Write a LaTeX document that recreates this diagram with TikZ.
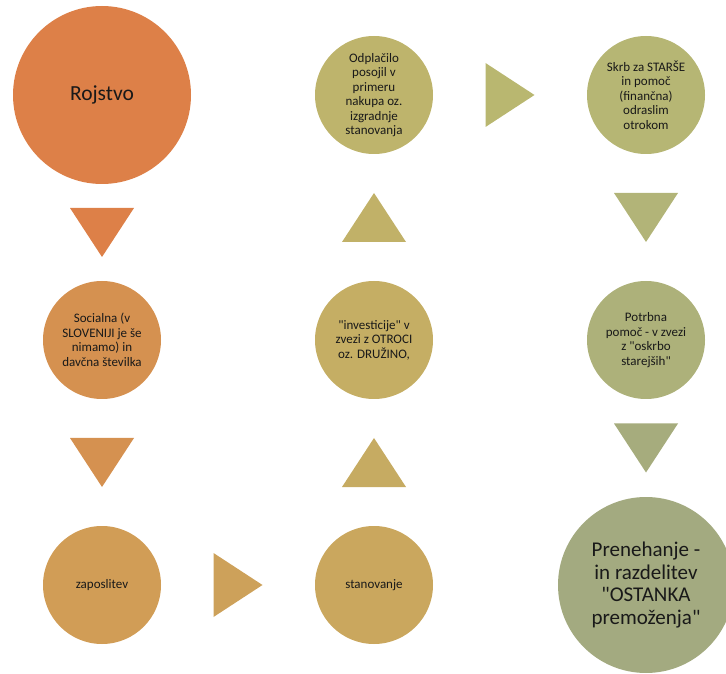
\documentclass[tikz,border=0pt]{standalone}
\usepackage{fontspec}
\setmainfont{Carlito}[Ligatures=TeXOff]
\usetikzlibrary{positioning, calc}

\definecolor{barva1}{RGB}{221,128,72}
\definecolor{barva2}{RGB}{213,145,80}
\definecolor{barva3}{RGB}{209,157,86}
\definecolor{barva4}{RGB}{205,161,90}
\definecolor{barva5}{RGB}{202,167,94}
\definecolor{barva6}{RGB}{198,171,98}
\definecolor{barva7}{RGB}{197,174,100}
\definecolor{barva8}{RGB}{193,177,104}
\definecolor{barva9}{RGB}{190,180,108}
\definecolor{barva10}{RGB}{185,183,112}
\definecolor{barva11}{RGB}{182,182,116}
\definecolor{barva12}{RGB}{178,180,120}
\definecolor{barva13}{RGB}{173,177,122}
\definecolor{barva14}{RGB}{166,172,125}
\definecolor{barva15}{RGB}{163,170,128}

\tikzset{
  krog/.style={circle, minimum size=118pt, inner sep=0pt, align=center,
    text=black!90, font=\fontsize{13}{14.5}\selectfont},
  velik/.style={minimum size=178pt, font=\fontsize{21.5}{23}\selectfont},
  puscica/.pic={\path[pic actions] (-24.5,-32) -- (24.5,0) -- (-24.5,32) -- cycle;}
}

\begin{document}
\begin{tikzpicture}[x=1pt, y=1pt, node distance=245pt and 272pt, on grid]
  \useasboundingbox (0,0) rectangle (726,673);
  \node[krog, velik, fill=barva1] (rojstvo) at (102,578) {Rojstvo};
  \node[krog, fill=barva2] (socialna) [below=of rojstvo]
    {Socialna (v\\SLOVENIJI je še\\nimamo) in\\davčna številka};
  \node[krog, fill=barva3] (zaposlitev) [below=of socialna] {zaposlitev};
  \node[krog, fill=barva5] (stanovanje) [right=of zaposlitev] {stanovanje};
  \node[krog, fill=barva7] (investicije) [above=of stanovanje]
    {"investicije" v\\zvezi z OTROCI\\oz. DRUŽINO,};
  \node[krog, fill=barva9] (odplacilo) [above=of investicije]
    {Odplačilo\\posojil v\\primeru\\nakupa oz.\\izgradnje\\stanovanja};
  \node[krog, fill=barva11] (skrb) [right=of odplacilo]
    {Skrb za STARŠE\\in pomoč\\(finančna)\\odraslim\\otrokom};
  \node[krog, fill=barva13] (potrebna) [below=of skrb]
    {Potrbna\\pomoč - v zvezi\\z "oskrbo\\starejših"};
  \node[krog, velik, minimum size=176pt, font=\fontsize{21}{22.5}\selectfont,
    fill=barva15] (prenehanje) [below=of potrebna]
    {Prenehanje -\\in razdelitev\\"OSTANKA\\premoženja"};

  \pic[fill=barva1, rotate=-90] at ($(rojstvo.south)!0.5!(socialna.north)$) {puscica};
  \pic[fill=barva2, rotate=-90] at ($(socialna.south)!0.5!(zaposlitev.north)$) {puscica};
  \pic[fill=barva4] at ($(zaposlitev.east)!0.5!(stanovanje.west)$) {puscica};
  \pic[fill=barva6, rotate=90] at ($(stanovanje.north)!0.5!(investicije.south)$) {puscica};
  \pic[fill=barva8, rotate=90] at ($(investicije.north)!0.5!(odplacilo.south)$) {puscica};
  \pic[fill=barva10] at ($(odplacilo.east)!0.5!(skrb.west)$) {puscica};
  \pic[fill=barva12, rotate=-90] at ($(skrb.south)!0.5!(potrebna.north)$) {puscica};
  \pic[fill=barva14, rotate=-90] at ($(potrebna.south)!0.5!(prenehanje.north)$) {puscica};
\end{tikzpicture}
\end{document}
